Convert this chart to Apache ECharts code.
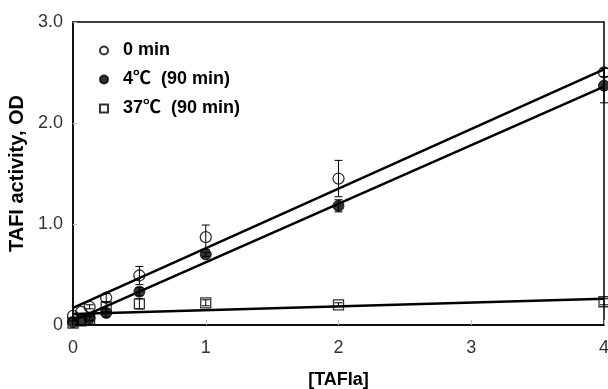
<!DOCTYPE html>
<html><head><meta charset="utf-8">
<script src="https://cdn.jsdelivr.net/npm/echarts@6/dist/echarts.min.js"></script>
<style>html,body{margin:0;padding:0;background:#fff}#c{width:608px;height:389px}</style>
</head><body><div id="c"></div>
<script>
// ---- data ----
const concentrations = [0, 0.0625, 0.125, 0.25, 0.5, 1, 2, 4];
const seriesNames = ['0 min', '4\u2103  (90 min)', '37\u2103  (90 min)'];
const od0min  = [0.09, 0.13, 0.18, 0.27, 0.49, 0.87, 1.45, 2.50];
const err0min = [0.00, 0.00, 0.02, 0.04, 0.09, 0.12, 0.18, 0.04];
const od4C    = [0.03, 0.05, 0.07, 0.12, 0.33, 0.70, 1.18, 2.37];
const err4C   = [0.00, 0.00, 0.02, 0.04, 0.04, 0.02, 0.06, 0.17];
const od37C   = [0.02, 0.04, 0.06, 0.18, 0.21, 0.22, 0.20, 0.23];
const err37C  = [0.00, 0.00, 0.02, 0.05, 0.05, 0.03, 0.02, 0.03];
// regression lines: [x, y] end points
const fitX    = [0, 4];
const fit0min = [0.17, 2.53];
const fit4C   = [0.04, 2.36];
const fit37C  = [0.11, 0.26];
const xTicks = [0, 1, 2, 3, 4];
const yTicks = [0, 1, 2, 3];

const pts = (ys) => concentrations.map((x, i) => [x, ys[i]]);
const errData = (ys, es) => concentrations.map((x, i) => [x, ys[i] - es[i], ys[i] + es[i]]).filter(d => d[2] > d[1]);
const fitData = (ys) => fitX.map((x, i) => [x, ys[i]]);

function errRender(params, api) {
  const x = api.value(0);
  const lo = api.coord([x, api.value(1)]);
  const hi = api.coord([x, api.value(2)]);
  const w = 4;
  const st = {stroke: '#000', lineWidth: 1};
  return {type: 'group', children: [
    {type: 'line', shape: {x1: lo[0], y1: lo[1], x2: hi[0], y2: hi[1]}, style: st},
    {type: 'line', shape: {x1: lo[0]-w, y1: lo[1], x2: lo[0]+w, y2: lo[1]}, style: st},
    {type: 'line', shape: {x1: hi[0]-w, y1: hi[1], x2: hi[0]+w, y2: hi[1]}, style: st}
  ]};
}

const chart = echarts.init(document.getElementById('c'), null, {renderer: 'canvas'});
const FONT = '"Liberation Sans", Arial, "Noto Sans CJK SC", sans-serif';
const lineStyle = {color: '#000', width: 2.5};
chart.setOption({
  animation: false,
  textStyle: {fontFamily: FONT},
  grid: {left: 73, right: 4, top: 22, bottom: 64, show: true, borderColor: '#000', borderWidth: 1.5, backgroundColor: 'transparent',
         containLabel: false, outerBoundsMode: 'none'},
  legend: {
    orient: 'vertical', left: 94, top: 36, itemGap: 10, itemWidth: 8, itemHeight: 8,
    data: seriesNames,
    textStyle: {fontFamily: FONT, fontWeight: 'bold', fontSize: 18, color: '#000', lineHeight: 19, padding: [0, 0, 0, 10]}
  },
  xAxis: {
    type: 'value', min: 0, max: 4, interval: 1,
    name: '[TAFIa]', nameLocation: 'middle', nameGap: 46,
    nameTextStyle: {fontFamily: FONT, fontWeight: 'bold', fontSize: 18, color: '#000'},
    axisLine: {lineStyle: {color: '#000', width: 1.5}},
    axisTick: {inside: true, length: 5, lineStyle: {color: '#bbb'}},
    axisLabel: {fontSize: 18, color: '#333', margin: 14, formatter: v => xTicks.includes(v) ? String(v) : ''},
    splitLine: {show: false}
  },
  yAxis: {
    type: 'value', min: 0, max: 3, interval: 1,
    name: 'TAFI activity, OD', nameLocation: 'middle', nameGap: 40,
    nameTextStyle: {fontFamily: FONT, fontWeight: 'bold', fontSize: 20, color: '#000'},
    axisLine: {lineStyle: {color: '#000', width: 1.5}},
    axisTick: {inside: true, length: 4, lineStyle: {color: '#bbb'}},
    axisLabel: {fontSize: 18, color: '#333', margin: 10, formatter: v => yTicks.includes(v) ? (v === 0 ? '0' : v.toFixed(1)) : ''},
    splitLine: {show: false}
  },
  series: [
    {type: 'line', data: fitData(fit0min), symbol: 'none', lineStyle, silent: true, z: 2},
    {type: 'line', data: fitData(fit4C), symbol: 'none', lineStyle, silent: true, z: 2},
    {type: 'line', data: fitData(fit37C), symbol: 'none', lineStyle, silent: true, z: 2},
    {type: 'custom', data: errData(od37C, err37C), renderItem: errRender, z: 3, clip: false},
    {type: 'custom', data: errData(od4C, err4C), renderItem: errRender, z: 3, clip: false},
    {type: 'custom', data: errData(od0min, err0min), renderItem: errRender, z: 3, clip: false},
    {name: seriesNames[2], type: 'scatter', data: pts(od37C), symbol: 'rect', symbolSize: 10, clip: false, z: 4,
     itemStyle: {color: 'rgba(0,0,0,0)', borderColor: '#000', borderWidth: 1.3}},
    {name: seriesNames[1], type: 'scatter', data: pts(od4C), symbol: 'circle', symbolSize: 11, clip: false, z: 4,
     itemStyle: {color: '#000', borderColor: '#000', borderWidth: 1}},
    {name: seriesNames[0], type: 'scatter', data: pts(od0min), symbol: 'circle', symbolSize: 11, clip: false, z: 5,
     itemStyle: {color: 'rgba(0,0,0,0)', borderColor: '#000', borderWidth: 1.3}}
  ]
});
</script></body></html>
